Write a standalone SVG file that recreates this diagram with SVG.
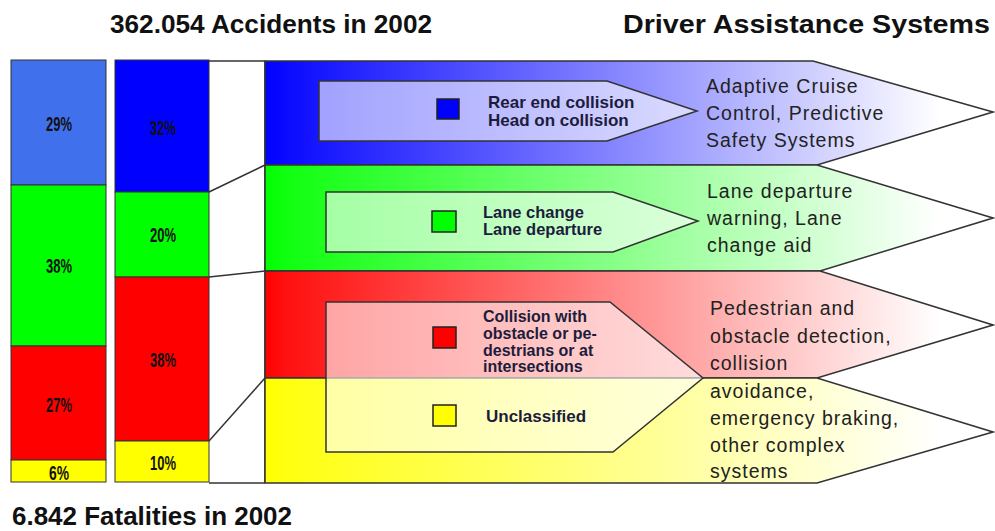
<svg xmlns="http://www.w3.org/2000/svg" width="995" height="531" viewBox="0 0 995 531">
<defs>
<linearGradient id="gB" gradientUnits="userSpaceOnUse" x1="265" y1="0" x2="940" y2="0"><stop offset="0" stop-color="#0000ff"/><stop offset="0.03" stop-color="#0a0aff"/><stop offset="1" stop-color="#ffffff"/></linearGradient>
<linearGradient id="gG" gradientUnits="userSpaceOnUse" x1="265" y1="0" x2="940" y2="0"><stop offset="0" stop-color="#00ff00"/><stop offset="0.03" stop-color="#10ff10"/><stop offset="1" stop-color="#ffffff"/></linearGradient>
<linearGradient id="gR" gradientUnits="userSpaceOnUse" x1="265" y1="0" x2="940" y2="0"><stop offset="0" stop-color="#ff0000"/><stop offset="0.03" stop-color="#ff1010"/><stop offset="1" stop-color="#ffffff"/></linearGradient>
<linearGradient id="gY" gradientUnits="userSpaceOnUse" x1="265" y1="0" x2="940" y2="0"><stop offset="0" stop-color="#ffff00"/><stop offset="0.03" stop-color="#ffff10"/><stop offset="1" stop-color="#ffffff"/></linearGradient>
</defs>
<style>
.bar{stroke:#333;stroke-width:1}
.band{stroke:#333;stroke-width:1.5}
.inner{fill:#ffffff;fill-opacity:0.6;stroke:#333;stroke-width:1.5}
.sq{stroke:#222;stroke-width:1.5}
.pct{font-family:"Liberation Sans",Arial,sans-serif;font-weight:bold;font-size:21px;fill:#111}
.lbl{font-family:"Liberation Sans",Arial,sans-serif;font-weight:bold;fill:#1c1c3c}
.sys{font-family:"Liberation Sans",Arial,sans-serif;font-size:19.5px;letter-spacing:1px;fill:#222}
.title{font-family:"Liberation Sans",Arial,sans-serif;font-weight:bold;font-size:26px;fill:#111}
.conn{stroke:#333;stroke-width:1.5;fill:none}
</style>
<rect width="995" height="531" fill="#ffffff"/>

<g id="titles">
<text class="title" x="110" y="33" textLength="322" lengthAdjust="spacingAndGlyphs">362.054 Accidents in 2002</text>
<text class="title" x="623" y="33" textLength="367" lengthAdjust="spacingAndGlyphs">Driver Assistance Systems</text>
<text class="title" x="12" y="525" font-size="25" fill="#1a1a40" textLength="280" lengthAdjust="spacingAndGlyphs">6.842 Fatalities in 2002</text>
</g>

<g id="bar-fatalities">
<rect class="bar" x="11" y="60" width="95" height="125" fill="#4170ec"/>
<rect class="bar" x="11" y="185" width="95" height="161" fill="#00ff00"/>
<rect class="bar" x="11" y="346" width="95" height="114" fill="#ff0000"/>
<rect class="bar" x="11" y="460" width="95" height="22" fill="#ffff00"/>
<text class="pct" x="46" y="131" textLength="26" lengthAdjust="spacingAndGlyphs">29%</text>
<text class="pct" x="46" y="273" textLength="26" lengthAdjust="spacingAndGlyphs">38%</text>
<text class="pct" x="46" y="412" textLength="26" lengthAdjust="spacingAndGlyphs">27%</text>
<text class="pct" x="49" y="480" font-size="18" textLength="20" lengthAdjust="spacingAndGlyphs">6%</text>
</g>

<g id="bar-accidents">
<rect class="bar" x="115" y="60" width="94" height="132" fill="#0000ff"/>
<rect class="bar" x="115" y="192" width="94" height="85" fill="#00ff00"/>
<rect class="bar" x="115" y="277" width="94" height="164" fill="#ff0000"/>
<rect class="bar" x="115" y="441" width="94" height="41" fill="#ffff00"/>
<text class="pct" x="150" y="135" textLength="26" lengthAdjust="spacingAndGlyphs">32%</text>
<text class="pct" x="150" y="242" textLength="26" lengthAdjust="spacingAndGlyphs">20%</text>
<text class="pct" x="150" y="367" textLength="26" lengthAdjust="spacingAndGlyphs">38%</text>
<text class="pct" x="150" y="470" textLength="26" lengthAdjust="spacingAndGlyphs">10%</text>
</g>

<g id="connectors">
<line class="conn" x1="209" y1="61" x2="265" y2="61"/>
<line class="conn" x1="209" y1="192" x2="265" y2="165"/>
<line class="conn" x1="209" y1="277" x2="265" y2="271"/>
<line class="conn" x1="209" y1="441" x2="265" y2="378"/>
<line class="conn" x1="209" y1="483" x2="265" y2="483"/>
<line class="conn" x1="265" y1="61" x2="265" y2="483"/>
</g>

<g id="band-blue">
<polygon class="band" points="265,61 813,61 993,112 817,165 265,165" fill="url(#gB)"/>
</g>
<g id="band-green">
<polygon class="band" points="265,165 817,165 993,218 820,271 265,271" fill="url(#gG)"/>
</g>
<g id="band-red">
<polygon class="band" points="265,271 820,271 993,325 817,378 265,378" fill="url(#gR)"/>
</g>
<g id="band-yellow">
<polygon class="band" points="265,378 817,378 993,432 817,483 265,483" fill="url(#gY)"/>
</g>

<g id="type-rear">
<polygon class="inner" points="319,81 607,81 697,111 607,141 319,141"/>
<rect class="sq" x="437" y="99" width="22" height="20" fill="#0000ff"/>
<text class="lbl" font-size="17" x="488" y="108">Rear end collision</text>
<text class="lbl" font-size="17" x="488" y="126">Head on collision</text>
</g>
<g id="type-lane">
<polygon class="inner" points="326,192 613,192 698,221 613,252 326,252"/>
<rect class="sq" x="432" y="211" width="24" height="21" fill="#00ff00"/>
<text class="lbl" font-size="16.5" x="483" y="218">Lane change</text>
<text class="lbl" font-size="16.5" x="483" y="235">Lane departure</text>
</g>
<g id="type-collision">
<polygon class="inner" points="326,302 610,302 703,378 613,452 326,452"/>
<rect class="sq" x="433" y="327" width="23" height="21" fill="#ff0000"/>
<text class="lbl" font-size="16" x="483" y="322">Collision with</text>
<text class="lbl" font-size="16" x="483" y="339">obstacle or pe-</text>
<text class="lbl" font-size="16" x="483" y="356">destrians or at</text>
<text class="lbl" font-size="16" x="483" y="372">intersections</text>
<rect class="sq" x="433" y="405" width="23" height="21" fill="#ffff00"/>
<text class="lbl" font-size="17" x="486" y="422">Unclassified</text>
</g>

<g id="sys-acc">
<text class="sys" x="706" y="93">Adaptive Cruise</text>
<text class="sys" x="706" y="120">Control, Predictive</text>
<text class="sys" x="706" y="147">Safety Systems</text>
</g>
<g id="sys-lane">
<text class="sys" x="707" y="198">Lane departure</text>
<text class="sys" x="707" y="225">warning, Lane</text>
<text class="sys" x="707" y="252">change aid</text>
</g>
<g id="sys-complex">
<text class="sys" x="710" y="315">Pedestrian and</text>
<text class="sys" x="710" y="343">obstacle detection,</text>
<text class="sys" x="710" y="370">collision</text>
<text class="sys" x="710" y="398">avoidance,</text>
<text class="sys" x="710" y="425">emergency braking,</text>
<text class="sys" x="710" y="452">other complex</text>
<text class="sys" x="710" y="478">systems</text>
</g>
</svg>
